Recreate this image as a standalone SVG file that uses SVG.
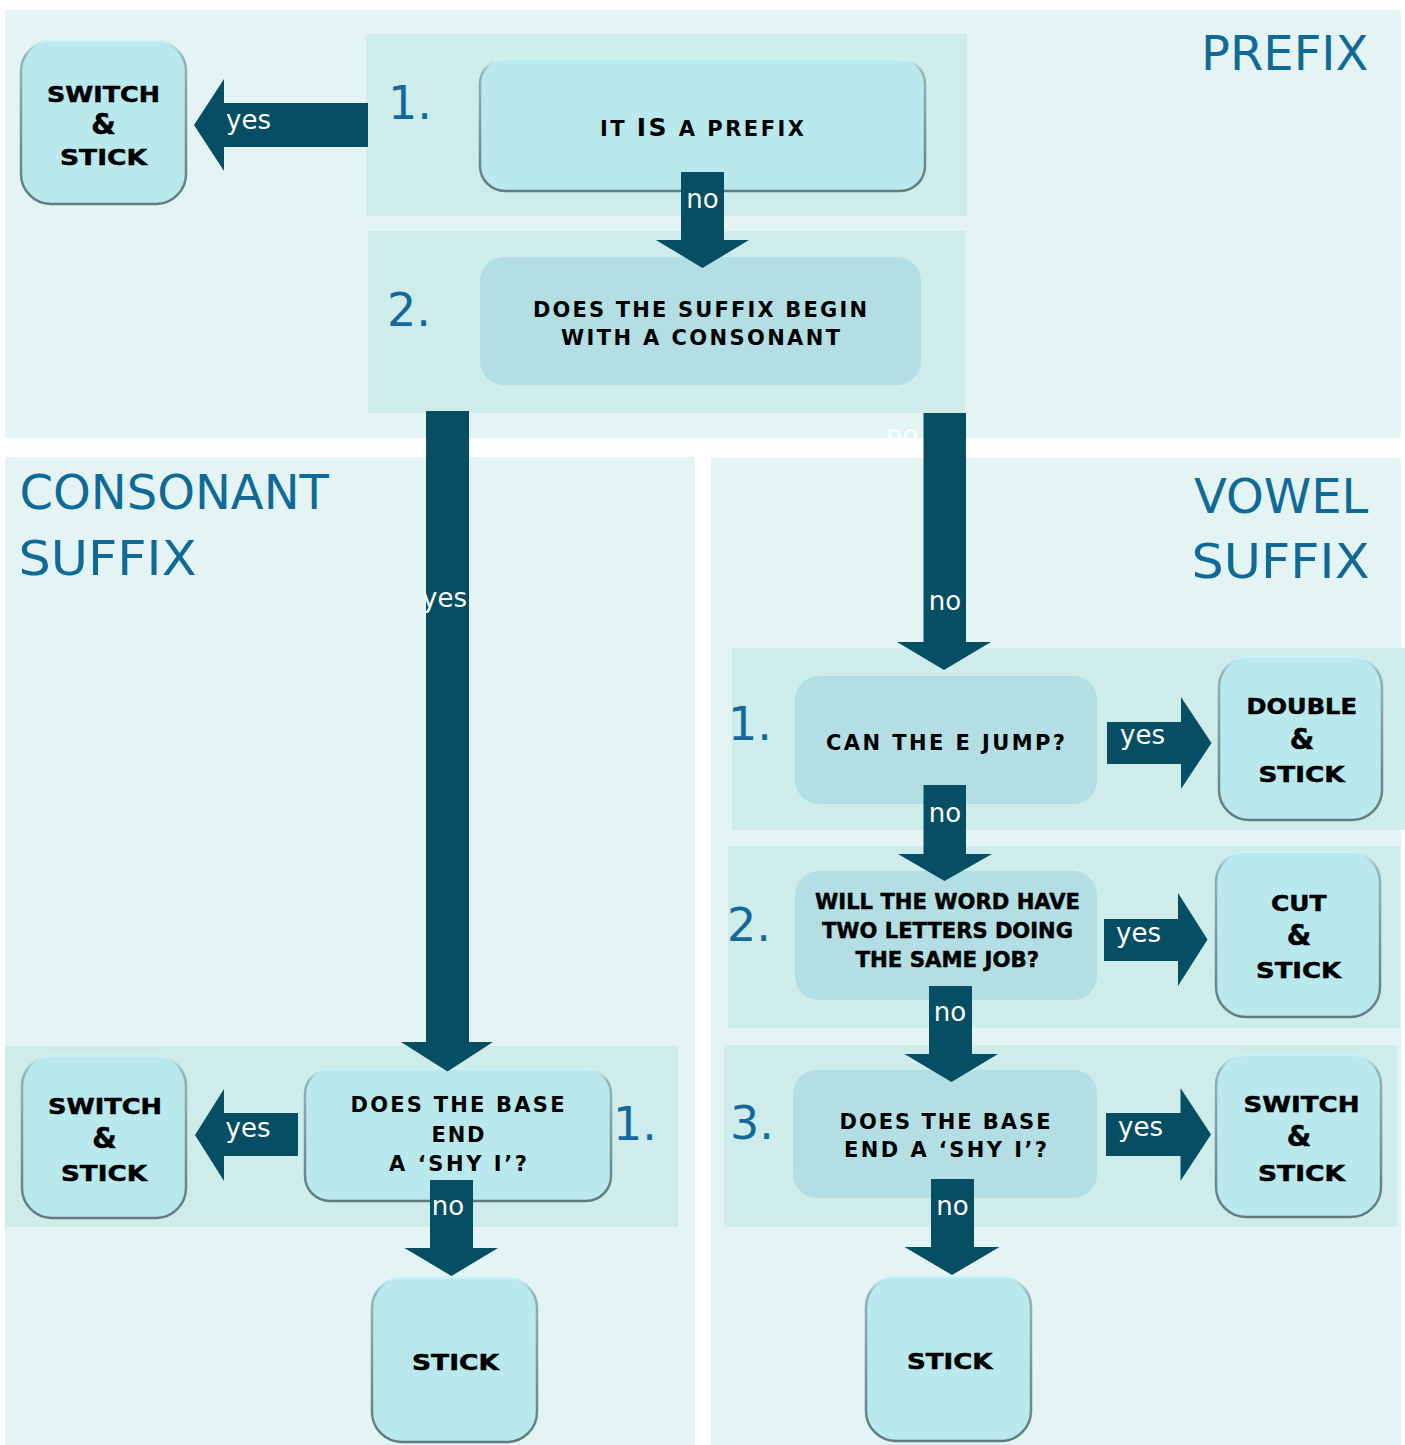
<svg xmlns="http://www.w3.org/2000/svg" width="1405" height="1445" viewBox="0 0 1405 1445">
<defs>
<linearGradient id="edge" x1="0" y1="0" x2="0" y2="1">
<stop offset="0" stop-color="#c9f5fa"/>
<stop offset="0.1" stop-color="#93b4b8"/>
<stop offset="1" stop-color="#5e7b7f"/>
</linearGradient>
<style>
.panel{fill:#e4f4f4}
.band{fill:#ceece9}
.node{fill:#b9e8ed;stroke:url(#edge);stroke-width:2.5}
.q{fill:#b2dee4}
.arrow{fill:#054e63}
.lbl{font-family:"DejaVu Sans",Verdana,sans-serif;font-size:26px;fill:#ffffff}
.num{font-family:"DejaVu Sans",Verdana,sans-serif;font-size:46px;fill:#12699a}
.title{font-family:"DejaVu Sans",Verdana,sans-serif;font-size:48px;fill:#0f6a98}
.cp{font-family:"DejaVu Sans",Verdana,sans-serif;font-weight:bold;font-size:21px;fill:#000000}
.hv{font-family:"DejaVu Sans",Verdana,sans-serif;font-weight:bold;font-size:22px;fill:#000000;stroke:#000000;stroke-width:0.5}
.amp{font-family:"DejaVu Sans",Verdana,sans-serif;font-weight:bold;font-size:28px;fill:#000000;stroke:#000000;stroke-width:0.5;text-anchor:middle}
</style>
</defs>
<rect width="1405" height="1445" fill="#ffffff"/>
<g id="panels">
<rect class="panel" x="5" y="10" width="1396" height="428"/>
<rect class="panel" x="5" y="457" width="690" height="988"/>
<rect class="panel" x="711" y="458" width="690" height="987"/>
<rect class="band" x="366" y="34" width="601" height="182"/>
<rect class="band" x="368" y="231" width="597" height="182"/>
<rect class="band" x="732" y="648" width="673" height="182"/>
<rect class="band" x="728" y="846" width="672" height="182"/>
<rect class="band" x="724" y="1045" width="673" height="182"/>
<rect class="band" x="5" y="1046" width="673" height="181"/>
</g>
<g id="titles">
<text class="title" x="1201" y="70" font-size="51">PREFIX</text>
<text class="title" x="19.5" y="509" font-size="48.5">CONSONANT</text>
<text class="title" x="18.5" y="575" textLength="178" lengthAdjust="spacingAndGlyphs">SUFFIX</text>
<text class="title" x="1194" y="512.5">VOWEL</text>
<text class="title" x="1191.5" y="578" textLength="178" lengthAdjust="spacingAndGlyphs">SUFFIX</text>
<text class="num" x="388" y="119">1.</text>
<text class="num" x="387" y="325.5" font-size="48">2.</text>
<text class="num" x="728" y="740">1.</text>
<text class="num" x="727" y="940.5">2.</text>
<text class="num" x="730" y="1139">3.</text>
<text class="num" x="613" y="1140">1.</text>
</g>
<g id="n-prefix-switch">
<rect class="node" x="21" y="41" width="165" height="163" rx="30"/>
<text class="hv" x="47" y="101.5" textLength="113" lengthAdjust="spacingAndGlyphs">SWITCH</text>
<text class="amp" x="103.5" y="133.5">&amp;</text>
<text class="hv" x="60" y="165" textLength="87" lengthAdjust="spacingAndGlyphs">STICK</text>
</g>
<g id="n-prefix">
<rect class="node" x="480" y="59" width="445" height="132" rx="25"/>
<text class="cp" x="600" y="135.5" textLength="204">IT <tspan font-size="25">IS</tspan> A PREFIX</text>
</g>
<g id="n-suffix">
<rect class="q" x="480" y="257" width="441" height="128" rx="24"/>
<text class="cp" x="533" y="316.5" textLength="334">DOES THE SUFFIX BEGIN</text>
<text class="cp" x="561" y="345" textLength="279">WITH A CONSONANT</text>
</g>
<g id="v-jump">
<rect class="q" x="795" y="676" width="302" height="128" rx="24"/>
<text class="cp" x="826" y="749.5" textLength="239">CAN THE E JUMP?</text>
</g>
<g id="v-double">
<rect class="node" x="1219" y="657" width="163" height="163" rx="30"/>
<text class="hv" x="1246.5" y="714" textLength="110.5" lengthAdjust="spacingAndGlyphs">DOUBLE</text>
<text class="amp" x="1302" y="748.5">&amp;</text>
<text class="hv" x="1258.5" y="782" textLength="86" lengthAdjust="spacingAndGlyphs">STICK</text>
</g>
<g id="v-same-job">
<rect class="q" x="795" y="871" width="302" height="129" rx="24"/>
<text class="hv" font-size="20" x="815" y="908.5" textLength="265" lengthAdjust="spacingAndGlyphs">WILL THE WORD HAVE</text>
<text class="hv" font-size="20" x="822" y="937.5" textLength="251" lengthAdjust="spacingAndGlyphs">TWO LETTERS DOING</text>
<text class="hv" font-size="20" x="855.5" y="967" textLength="183.5" lengthAdjust="spacingAndGlyphs">THE SAME JOB?</text>
</g>
<g id="v-cut">
<rect class="node" x="1216" y="852" width="164" height="165" rx="30"/>
<text class="hv" x="1271" y="910.5" textLength="55.5" lengthAdjust="spacingAndGlyphs">CUT</text>
<text class="amp" x="1299" y="944.5">&amp;</text>
<text class="hv" x="1256" y="978" textLength="85" lengthAdjust="spacingAndGlyphs">STICK</text>
</g>
<g id="v-shy">
<rect class="q" x="793" y="1070" width="304" height="128" rx="24"/>
<text class="cp" x="839.5" y="1128.5" textLength="211">DOES THE BASE</text>
<text class="cp" x="844" y="1157" textLength="203">END A ‘SHY I’?</text>
</g>
<g id="v-switch">
<rect class="node" x="1216" y="1055" width="165" height="162" rx="30"/>
<text class="hv" x="1243.5" y="1111.5" textLength="116" lengthAdjust="spacingAndGlyphs">SWITCH</text>
<text class="amp" x="1299" y="1146">&amp;</text>
<text class="hv" x="1258" y="1180.5" textLength="87" lengthAdjust="spacingAndGlyphs">STICK</text>
</g>
<g id="v-stick">
<rect class="node" x="866" y="1277" width="165" height="164" rx="30"/>
<text class="hv" x="907" y="1369" textLength="85.5" lengthAdjust="spacingAndGlyphs">STICK</text>
</g>
<g id="c-switch">
<rect class="node" x="22" y="1056" width="164" height="162" rx="30"/>
<text class="hv" x="48" y="1114" textLength="114" lengthAdjust="spacingAndGlyphs">SWITCH</text>
<text class="amp" x="104.5" y="1148">&amp;</text>
<text class="hv" x="61" y="1180.5" textLength="86" lengthAdjust="spacingAndGlyphs">STICK</text>
</g>
<g id="c-shy">
<rect class="node" x="305" y="1069" width="306" height="132" rx="25"/>
<text class="cp" x="350.5" y="1112" textLength="214">DOES THE BASE</text>
<text class="cp" x="431.5" y="1141.5" textLength="53">END</text>
<text class="cp" x="389" y="1171" textLength="138">A ‘SHY I’?</text>
</g>
<g id="c-stick">
<rect class="node" x="372" y="1278" width="165" height="164" rx="30"/>
<text class="hv" x="412" y="1370" textLength="87" lengthAdjust="spacingAndGlyphs">STICK</text>
</g>
<g id="connectors">
<polygon class="arrow" points="681,172 724,172 724,240 749,240 702.5,268 656,240 681,240"/>
<text class="lbl" x="702.5" y="208" text-anchor="middle">no</text>
<polygon class="arrow" points="368,103 368,147 224,147 224,171 194,125 224,79 224,103"/>
<text class="lbl" x="226" y="129">yes</text>
<polygon class="arrow" points="426,411 469,411 469,1042 493,1042 447.5,1071.5 401,1042 426,1042"/>
<text class="lbl" x="422" y="607">yes</text>
<polygon class="arrow" points="923.5,413 966,413 966,642 991,642 944,670 897,642 923.5,642"/>
<text class="lbl" x="945" y="610" text-anchor="middle">no</text>
<text class="lbl" x="886" y="444">no</text>
<polygon class="arrow" points="1107,722 1181,722 1181,697 1211.5,743 1181,789 1181,764 1107,764"/>
<text class="lbl" x="1120" y="744">yes</text>
<polygon class="arrow" points="923.5,785 966,785 966,854 992,854 944.5,881 898,854 923.5,854"/>
<text class="lbl" x="945" y="821.5" text-anchor="middle">no</text>
<polygon class="arrow" points="1104,919 1178,919 1178,893 1207.5,939.5 1178,986 1178,961 1104,961"/>
<text class="lbl" x="1116" y="941.5">yes</text>
<polygon class="arrow" points="929,986 972,986 972,1054 998,1054 951.5,1082 904.5,1054 929,1054"/>
<text class="lbl" x="950" y="1021" text-anchor="middle">no</text>
<polygon class="arrow" points="1106,1113 1180.5,1113 1180.5,1088 1211,1134.5 1180.5,1181 1180.5,1156 1106,1156"/>
<text class="lbl" x="1118" y="1136">yes</text>
<polygon class="arrow" points="931,1179 974,1179 974,1247 999.5,1247 952,1275 904.5,1247 931,1247"/>
<text class="lbl" x="952.5" y="1215" text-anchor="middle">no</text>
<polygon class="arrow" points="298,1113 298,1156 224,1156 224,1181 195,1135 224,1089 224,1113"/>
<text class="lbl" x="225.5" y="1137">yes</text>
<polygon class="arrow" points="430,1180 473,1180 473,1248 498,1248 451.5,1276 404.5,1248 430,1248"/>
<text class="lbl" x="448" y="1215" text-anchor="middle">no</text>
</g>
</svg>
